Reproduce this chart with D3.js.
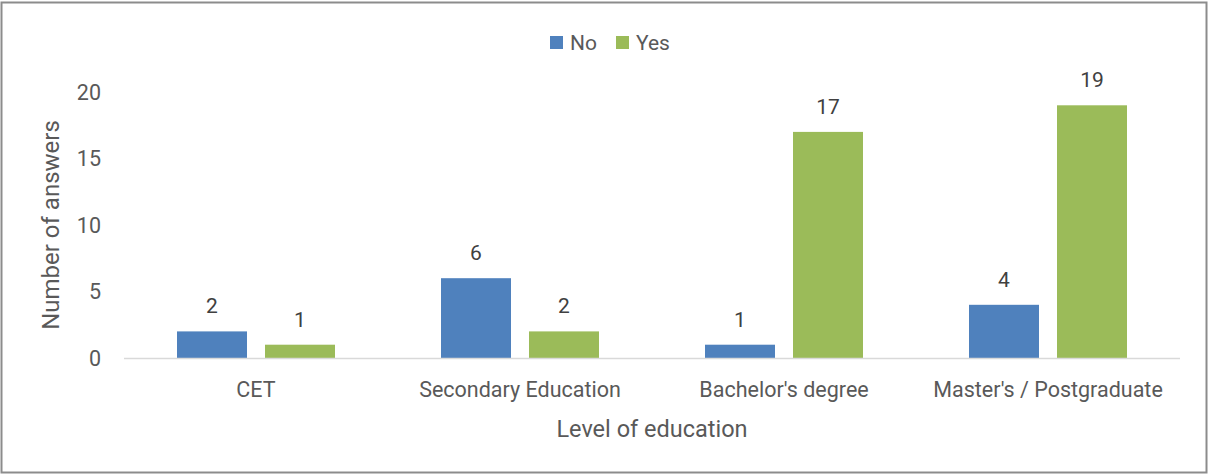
<!DOCTYPE html>
<html><head><meta charset="utf-8">
<script src="https://cdn.jsdelivr.net/npm/d3@7"></script>
<style>body{margin:0;background:#fff}text{font-family:Roboto,"Open Sans",sans-serif;fill:#595959}</style>
</head><body>
<svg id="c" width="1210" height="474"></svg>
<script>
const categories = ["CET", "Secondary Education", "Bachelor's degree", "Master's / Postgraduate"];
const seriesNames = ["No", "Yes"];
const noValues = [2, 6, 1, 4];
const yesValues = [1, 2, 17, 19];
const yTicks = [0, 5, 10, 15, 20];
const colors = ["#4F81BD", "#9BBB59"];

(function(){
const svg = d3.select("#c");
svg.append("rect").attr("x",1.5).attr("y",2.5).attr("width",1205).attr("height",470)
  .attr("fill","#fff").attr("stroke","#8c8c8c").attr("stroke-width",2);

const pLeft=124, pRight=1180, pTop=92, pBottom=358;
const x = d3.scaleBand().domain(categories).range([pLeft,pRight]);
const bw = 70, gap = 18;
const y = d3.scaleLinear().domain([0,20]).range([pBottom,pTop]);

const series = [noValues, yesValues];
categories.forEach((c,i)=>{
  series.forEach((vals,s)=>{
    const cx = x(c) + x.bandwidth()/2 + (s===0 ? -(gap/2+bw/2) : (gap/2+bw/2));
    svg.append("rect").attr("x",cx-bw/2).attr("y",y(vals[i])).attr("width",bw)
      .attr("height",y(0)-y(vals[i])).attr("fill",colors[s]);
    svg.append("text").attr("x",cx).attr("y",y(vals[i])-18).attr("text-anchor","middle")
      .attr("font-size",21).style("fill","#404040").text(vals[i]);
  });
});

svg.append("line").attr("x1",pLeft).attr("x2",pRight).attr("y1",y(0)+0.5).attr("y2",y(0)+0.5)
  .attr("stroke","#d9d9d9").attr("stroke-width",1.5);

yTicks.forEach(t=>{
  svg.append("text").attr("x",101).attr("y",y(t)).attr("dy","0.35em").attr("text-anchor","end")
    .attr("font-size",21.5).text(t);
});
categories.forEach(c=>{
  svg.append("text").attr("x",x(c)+x.bandwidth()/2).attr("y",397).attr("text-anchor","middle")
    .attr("font-size",21.5).text(c);
});
svg.append("text").attr("x",(pLeft+pRight)/2).attr("y",437).attr("text-anchor","middle")
  .attr("font-size",23.5).text("Level of education");
svg.append("text").attr("transform",`translate(59,${(pTop+pBottom)/2}) rotate(-90)`)
  .attr("text-anchor","middle").attr("font-size",24).text("Number of answers");

const lg = [550, 616];
lg.forEach((lx,i)=>{
  svg.append("rect").attr("x",lx).attr("y",36).attr("width",13).attr("height",13).attr("fill",colors[i]);
  svg.append("text").attr("x",lx+20).attr("y",50).attr("font-size",21).text(seriesNames[i]);
});
})();
</script>
</body></html>
